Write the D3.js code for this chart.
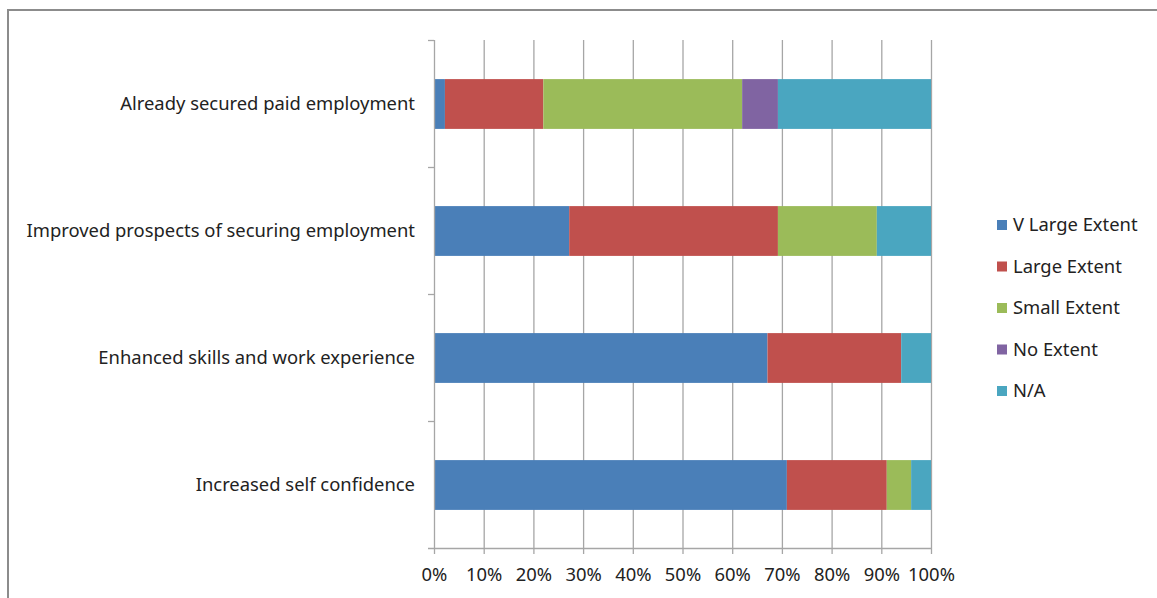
<html>
<head>
    <meta charset="UTF-8">
    <title>Stacked bar chart</title>
    <script src="https://d3js.org/d3.v7.min.js"></script>
    <style>
        body { margin: 0; background: #fff; }
        text { font-family: "Noto Sans", "Liberation Sans", sans-serif; fill: #222; }
        .axis path, .axis line { stroke: #a6a6a6; }
        .grid line { stroke: #a6a6a6; }
    </style>
</head>
<body>
    <svg width="1157" height="598"></svg>
    <script>
        // data (percent of respondents)
        var categories = ['Already secured paid employment',
                          'Improved prospects of securing employment',
                          'Enhanced skills and work experience',
                          'Increased self confidence'];
        var seriesNames = ['V Large Extent', 'Large Extent', 'Small Extent', 'No Extent', 'N/A'];
        var vLarge = [2.2, 27.2, 67.1, 71.0];
        var large  = [19.8, 42.0, 26.9, 20.1];
        var small  = [40.0, 19.9, 0, 4.9];
        var noExt  = [7.2, 0, 0, 0];
        var na     = [30.8, 10.9, 6.0, 4.0];
        var tickValues = [0, 10, 20, 30, 40, 50, 60, 70, 80, 90, 100];
        var colors = ['#4a7fb8', '#c0504d', '#9bbb59', '#8064a2', '#4aa6c0'];

        var svg = d3.select('svg');
        var margin = { top: 40, right: 226, bottom: 50, left: 434 },
            width = 931 - margin.left,
            height = 548 - margin.top;
        var fontSize = '18.4px';

        // outer frame (only top and left edges show)
        svg.append('rect')
            .attr('x', 8).attr('y', 10)
            .attr('width', 1200).attr('height', 700)
            .attr('fill', 'none').attr('stroke', '#8c8c8c').attr('stroke-width', 2);

        var g = svg.append('g').attr('transform', 'translate(' + margin.left + ',' + margin.top + ')');

        var rows = categories.map(function (c, i) {
            return { cat: c, 'V Large Extent': vLarge[i], 'Large Extent': large[i],
                     'Small Extent': small[i], 'No Extent': noExt[i], 'N/A': na[i] };
        });

        var x = d3.scaleLinear().domain([0, 100]).range([0, width]);
        var y = d3.scaleBand().domain(categories).range([0, height]).paddingInner(0.6).paddingOuter(0.3);
        var z = d3.scaleOrdinal().domain(seriesNames).range(colors);

        // vertical gridlines
        g.append('g').attr('class', 'grid')
            .selectAll('line').data(tickValues.slice(1)).enter().append('line')
            .attr('x1', d => x(d) + 0.5).attr('x2', d => x(d) + 0.5)
            .attr('y1', 0).attr('y2', height)
            .attr('stroke-width', 1.3);

        var stack = d3.stack().keys(seriesNames)(rows);

        g.selectAll('.series').data(stack).enter().append('g')
            .attr('class', 'series')
            .attr('fill', d => z(d.key))
            .selectAll('rect').data(d => d).enter().append('rect')
            .attr('x', d => x(d[0]))
            .attr('width', d => x(d[1]) - x(d[0]))
            .attr('y', d => y(d.data.cat) + 1)
            .attr('height', y.bandwidth() - 1);

        // y axis: line with ticks between categories
        var yAxis = g.append('g').attr('class', 'axis');
        yAxis.append('line').attr('x1', 0.5).attr('x2', 0.5).attr('y1', 0).attr('y2', height).attr('stroke-width', 1.3);
        var step = height / categories.length;
        yAxis.selectAll('.yt').data(d3.range(categories.length)).enter().append('line')
            .attr('class', 'yt')
            .attr('x1', -6).attr('x2', 0)
            .attr('y1', d => d * step + 0.5).attr('y2', d => d * step + 0.5).attr('stroke-width', 1.3);
        yAxis.selectAll('.ylab').data(categories).enter().append('text')
            .attr('x', -19)
            .attr('y', d => y(d) + y.bandwidth() / 2)
            .attr('dy', '0.35em')
            .attr('text-anchor', 'end')
            .style('font-size', fontSize)
            .text(d => d);

        // x axis
        var xAxis = g.append('g').attr('class', 'axis')
            .attr('transform', 'translate(0,' + height + ')')
            .call(d3.axisBottom(x).tickValues(tickValues).tickSize(6).tickSizeOuter(0).tickFormat(d => d + '%'));
        xAxis.select('.domain').attr('d', 'M-6,0.5H' + width).attr('stroke-width', 1.3);
        xAxis.selectAll('.tick line').attr('stroke-width', 1.3);
        xAxis.selectAll('.tick text').attr('y', 20).style('font-size', fontSize).attr('fill', '#222');

        // legend
        var legend = svg.append('g').attr('transform', 'translate(997,225)');
        var item = legend.selectAll('.item').data(seriesNames).enter().append('g')
            .attr('transform', (d, i) => 'translate(0,' + (i * 41.5) + ')');
        item.append('rect').attr('x', 0).attr('y', -5).attr('width', 10).attr('height', 10).attr('fill', d => z(d));
        item.append('text').attr('x', 16).attr('dy', '0.35em').style('font-size', fontSize).text(d => d);
    </script>
</body>
</html>
